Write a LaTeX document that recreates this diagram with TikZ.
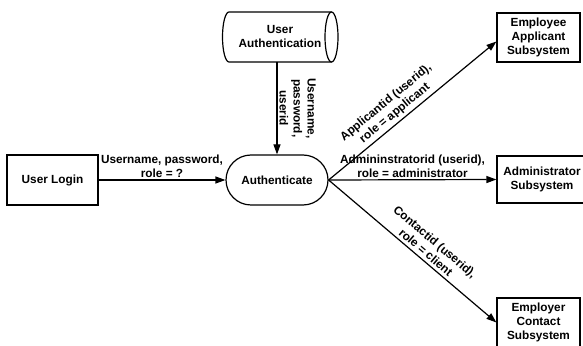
\documentclass[tikz,border=0pt]{standalone}
\usepackage{fontspec}
\setmainfont{Liberation Sans}
\usetikzlibrary{arrows.meta,shapes.misc}
\begin{document}
\begin{tikzpicture}[x=1pt,y=1pt,
  every node/.style={font=\bfseries\fontsize{11.8}{14}\selectfont, align=center},
  box/.style={draw, line width=1.2pt, rectangle, inner sep=0pt},
  proc/.style={draw, line width=1.2pt, rounded rectangle, minimum width=102pt, minimum height=50pt, inner sep=0pt},
  flow/.style={line width=1.2pt, -{Triangle[length=10pt,width=7pt]}},
  lbl/.style={inner sep=2pt},
  slbl/.style={inner sep=3pt, above, sloped}]
\useasboundingbox (0,0) rectangle (583,345);

% external entities and process
\node[box, minimum width=91pt, minimum height=50pt] (login) at (52.5,165) {User Login};
\node[proc] (auth) at (277,165) {Authenticate};
\node[box, minimum width=83pt, minimum height=49pt] (ea) at (538.5,307.5) {Employee\\Applicant\\Subsystem};
\node[box, minimum width=90pt, minimum height=47pt] (adm) at (542,165.5) {Administrator\\Subsystem};
\node[box, minimum width=83pt, minimum height=49pt] (ec) at (538.5,22.5) {Employer\\Contact\\Subsystem};

% data store drawn as a horizontal cylinder
\node[minimum width=116pt, minimum height=50pt, inner sep=0pt] (ua) at (280,308) {User\\Authentication};
\draw[line width=1.2pt] (331.5,333) -- (229,333)
  arc[start angle=90, end angle=270, x radius=6.5, y radius=25] -- (331.5,283);
\draw[line width=1.2pt] (331.5,308) ellipse[x radius=6.5, y radius=25];

% data flows
\draw[flow] (login.east) -- node[lbl, above] {Username, password,\\role = ?} (auth.west);
\draw[flow] (ua.south -| auth.north) -- node[lbl, right, rotate=-90, anchor=south] {Username,\\password,\\userid} (auth.north);
\draw[flow] (auth.east) -- node[slbl, pos=0.43] {Applicantid (userid),\\role = applicant} ([yshift=-4pt]ea.west);
\draw[flow] (auth.east) -- node[lbl, above] {Admininstratorid (userid),\\role = administrator} (adm.west);
\draw[flow] (auth.east) -- node[slbl, pos=0.55] {Contactid (userid),\\role = client} (ec.west);
\end{tikzpicture}
\end{document}
